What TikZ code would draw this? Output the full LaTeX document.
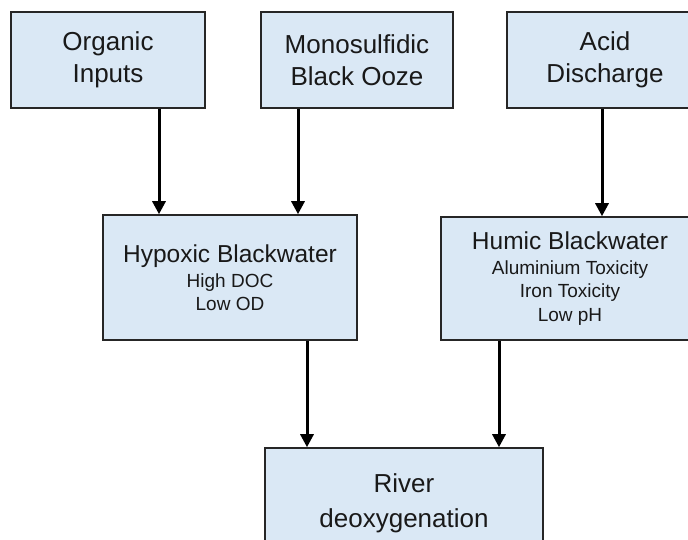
\documentclass[tikz,border=0pt]{standalone}
\usepackage{fontspec}
\setmainfont{Liberation Sans}
\usetikzlibrary{arrows.meta}
\newcommand{\topfont}{\fontsize{26}{32}\selectfont}
\newcommand{\ttlfont}{\fontsize{24.5}{30}\selectfont}
\newcommand{\subfont}{\fontsize{19}{23.5}\selectfont}
\begin{document}
\begin{tikzpicture}[x=1pt,y=1pt,
  box/.style={draw=black!85,line width=1.5pt,fill=boxblue,inner sep=0pt,align=center,text=black!90},
  arr/.style={line width=3pt,-{Triangle[width=13pt,length=13pt]}}]
\definecolor{boxblue}{RGB}{218,232,245}
\useasboundingbox (0,0) rectangle (688,540);
\clip (0,0) rectangle (688,540);
\node[box,minimum width=194pt,minimum height=96pt,font=\topfont] (A) at (108,480) {Organic\\Inputs};
\node[box,minimum width=192pt,minimum height=96pt,font=\topfont] (B) at (357,480) {Monosulfidic\\Black Ooze};
\node[box,minimum width=196pt,minimum height=96pt,font=\topfont] (C) at (605,480) {Acid\\Discharge};
\node[box,minimum width=254pt,minimum height=125pt,font=\subfont] (D) at (230,262.5) {{\ttlfont Hypoxic Blackwater}\\[1.5pt]High DOC\\Low OD};
\node[box,minimum width=258pt,minimum height=123pt,font=\subfont] (E) at (570,261.5) {{\ttlfont Humic Blackwater}\\[1.5pt]Aluminium Toxicity\\Iron Toxicity\\Low pH};
\node[box,minimum width=278pt,minimum height=110pt,font=\topfont] (F) at (404,37) {River\\[3pt]deoxygenation};
\draw[arr] ([xshift=51pt]A.south) -- ([xshift=51pt]A.south |- D.north);
\draw[arr] ([xshift=-59pt]B.south) -- ([xshift=-59pt]B.south |- D.north);
\draw[arr] ([xshift=-3pt]C.south) -- ([xshift=-3pt]C.south |- E.north);
\draw[arr] ([xshift=77pt]D.south) -- ([xshift=77pt]D.south |- F.north);
\draw[arr] ([xshift=-71pt]E.south) -- ([xshift=-71pt]E.south |- F.north);
\end{tikzpicture}
\end{document}
